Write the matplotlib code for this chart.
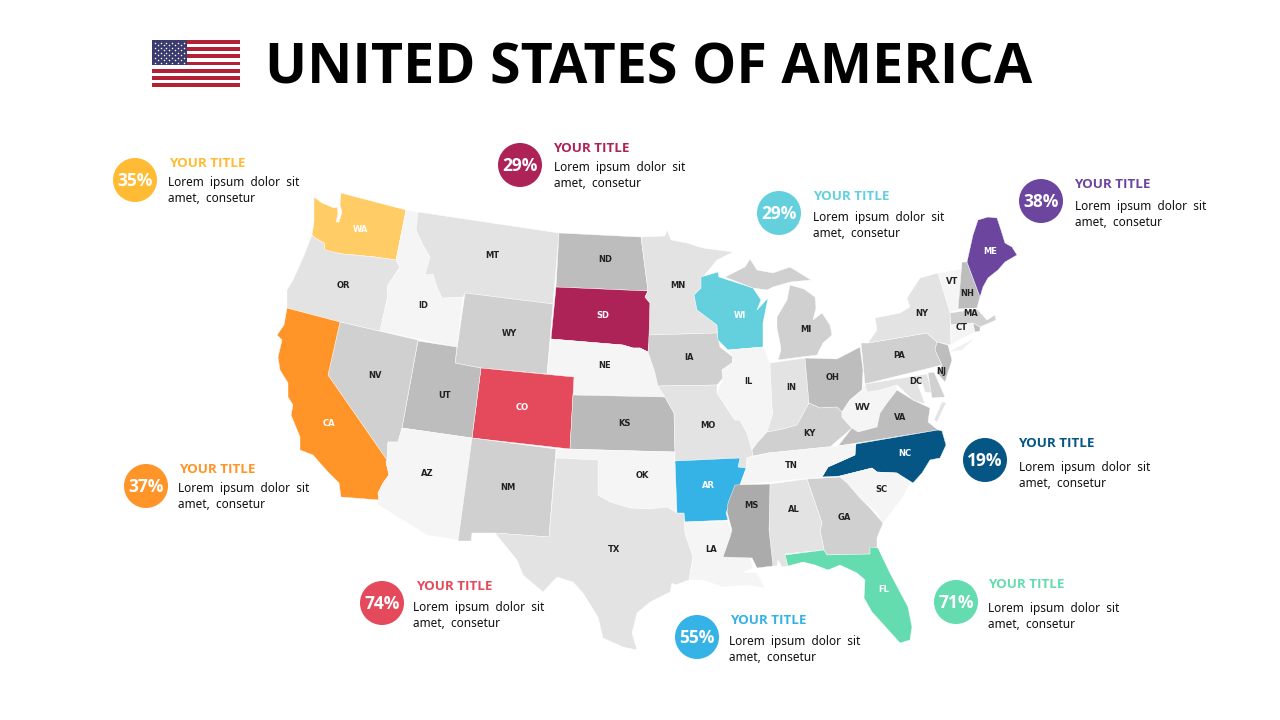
import matplotlib
matplotlib.use("Agg")
import matplotlib.pyplot as plt
from matplotlib.patches import Polygon, Circle, Rectangle

W, H = 1280, 720

# --- state outlines
WA = [(314,197),(322,203),(334,208),(337,207),(338,214),(336,222),(339,222),(342,212),(340,205),(341,193),(406,210),(396,260),(375,257),(355,255),(343,254),(330,252),(325,250),(324,243),(315,238),(312,235),(314,222)]
OR = [(312,235),(315,238),(324,243),(325,250),(343,254),(375,257),(396,260),(400,267),(388,285),(387,291),(388,295),(380,331),(340,322),(287,308),(287,290),(293,280),(303,258)]
ID = [(406,210),(418,212),(416,230),(423,245),(430,257),(425,275),(433,274),(437,287),(442,298),(463,297),(457,347),(380,331),(388,295),(387,291),(388,285),(400,267),(396,260)]
MT = [(418,212),(559,233),(553,304),(465,293),(463,297),(442,298),(437,287),(433,274),(425,275),(430,257),(423,245),(416,230)]
WY = [(465,293),(553,304),(547,374),(481,368),(455,363)]
ND = [(559,233),(641,237),(648,291),(556,287)]
SD = [(556,287),(648,291),(645,297),(650,303),(650,335),(648,352),(640,348),(633,348),(623,345),(551,339)]
NE = [(551,339),(623,345),(633,348),(640,348),(648,352),(655,373),(665,397),(573,395),(574,377),(547,374)]
CO = [(481,368),(574,377),(570,449),(472,438)]
UT = [(418,341),(457,347),(455,363),(481,368),(472,438),(402,428)]
NV = [(340,322),(418,340),(402,428),(398,442),(388,442),(387,460),(328,375)]
CA = [(287,308),(340,322),(328,375),(387,460),(386,462),(389,475),(383,483),(378,493),(379,500),(341,497),(339,483),(328,472),(320,463),(313,455),(300,450),(300,437),(291,415),(293,405),(288,397),(288,383),(280,370),(278,357),(282,340),(277,335),(284,325)]
AZ = [(402,428),(472,438),(458,540),(427,535),(377,504),(379,500),(378,493),(383,483),(389,475),(386,462),(387,460),(388,442),(398,442)]
NM = [(472,438),(556,449),(549,537),(495,533),(472,533),(471,541),(458,541)]
KS = [(573,395),(665,397),(674,413),(675,452),(570,449)]
OK = [(556,449),(675,452),(675,461),(677,513),(667,507),(650,509),(630,508),(610,502),(598,495),(598,460),(556,458)]
TX = [(556,458),(598,460),(598,495),(610,502),(630,508),(650,509),(667,507),(677,513),(684,513),(685,533),(693,557),(689,580),(675,585),(672,583),(670,592),(650,602),(637,613),(632,633),(637,650),(623,647),(603,638),(598,617),(583,593),(573,582),(557,577),(543,592),(523,575),(517,560),(495,533),(549,537)]
MN = [(641,237),(665,236),(667,230),(671,240),(687,243),(703,248),(733,252),(717,260),(703,277),(701,288),(694,295),(697,310),(717,325),(717,333),(649,335),(650,303),(645,297),(648,291)]
IA = [(649,335),(717,333),(720,347),(733,357),(732,363),(722,370),(723,378),(717,385),(658,386),(655,373),(648,352)]
MO = [(658,386),(717,385),(717,393),(735,420),(740,420),(747,433),(752,450),(753,456),(747,458),(746,468),(738,467),(740,458),(675,461),(675,452),(674,413),(665,397)]
AR = [(675,461),(740,458),(738,467),(746,468),(740,485),(730,503),(726,513),(728,520),(685,522),(684,513),(677,513)]
LA = [(685,522),(728,521),(732,532),(723,557),(750,557),(753,568),(743,572),(757,573),(765,588),(747,585),(723,587),(703,580),(689,580),(693,557),(685,533)]
WI = [(701,277),(718,272),(719,277),(753,288),(761,300),(757,310),(768,298),(763,323),(763,347),(728,350),(718,340),(717,325),(697,310),(694,295),(701,288)]
IL = [(728,350),(763,347),(770,363),(772,407),(773,413),(767,432),(757,443),(752,450),(747,433),(740,420),(735,420),(717,393),(723,378),(722,370),(732,363),(733,357)]
IN = [(770,363),(805,358),(809,403),(797,425),(783,429),(767,432),(773,413),(772,407)]
MI_UP = [(725,277),(745,267),(750,259),(757,270),(773,273),(790,267),(811,280),(790,282),(773,287),(767,290),(753,288)]
MI_LOW = [(790,285),(804,289),(815,297),(816,308),(813,320),(822,313),(830,325),(832,335),(823,343),(817,355),(778,360),(781,350),(780,343),(777,328),(777,317),(787,300)]
OH = [(805,358),(837,359),(860,347),(863,370),(862,390),(850,400),(842,412),(837,407),(820,408),(809,403)]
KY = [(809,403),(820,408),(837,407),(842,412),(842,417),(852,428),(830,447),(768,453),(753,456),(752,450),(757,443),(767,432),(783,429),(797,425)]
WV = [(842,412),(850,400),(862,390),(863,385),(880,390),(897,385),(897,390),(887,403),(880,413),(877,427),(858,432),(852,428),(842,417)]
VA = [(897,390),(913,400),(930,408),(928,422),(938,430),(838,446),(852,428),(858,432),(877,427),(880,413),(887,403)]
NC = [(938,430),(942,431),(946,445),(940,458),(930,460),(922,473),(913,483),(897,473),(877,472),(872,468),(840,476),(822,477),(828,467),(855,455),(856,444)]
TN = [(747,458),(768,453),(855,444),(855,455),(828,467),(822,477),(740,485),(747,467)]
SC = [(840,476),(872,468),(877,472),(897,473),(910,483),(903,497),(883,523),(877,513),(860,498),(847,483)]
GA = [(807,479),(840,477),(847,483),(860,498),(870,508),(883,523),(877,538),(877,548),(870,548),(870,554),(827,555),(824,550),(820,530),(822,523)]
AL = [(770,484),(807,479),(822,523),(820,530),(824,550),(785,554),(788,566),(782,567),(778,560),(777,566),(773,566),(769,530)]
MS = [(735,485),(770,484),(769,530),(773,566),(757,568),(752,558),(723,557),(730,537),(732,530),(727,512),(728,503)]
FL = [(785,555),(824,550),(827,555),(870,554),(870,547),(878,548),(890,573),(908,607),(912,627),(910,640),(900,643),(882,623),(872,612),(864,598),(865,580),(857,573),(840,565),(828,570),(815,565),(803,562),(788,566)]
PA = [(861,343),(868,343),(927,333),(937,342),(935,350),(942,365),(865,384)]
NY = [(868,343),(877,330),(875,318),(900,313),(910,307),(907,298),(920,278),(938,273),(950,312),(951,345),(937,342),(927,333)]
VT = [(938,273),(962,269),(958,310),(950,312)]
NH = [(962,262),(967,262),(980,297),(977,308),(958,309)]
ME = [(967,262),(973,235),(978,220),(988,217),(997,218),(1001,230),(1005,243),(1012,247),(1017,255),(1005,262),(998,270),(988,278),(983,287),(980,297)]
MA = [(950,313),(977,309),(987,320),(995,315),(996,320),(980,327),(973,323),(951,325)]
CT = [(951,325),(973,323),(975,332),(955,342),(951,345)]
RI = [(973,323),(980,327),(980,331),(975,332)]
LI = [(948,352),(975,338),(962,350)]
NJ = [(937,342),(948,345),(952,360),(945,382),(937,373),(942,365),(935,350)]
MD = [(865,384),(927,374),(932,393),(925,392),(922,382),(918,385),(925,404),(913,400),(897,385),(880,390),(867,392)]
DE = [(928,373),(934,372),(945,397),(932,398)]
VA_SHORE = [(942,402),(946,403),(937,422),(934,420)]

SHAPES = [WA,OR,ID,MT,WY,ND,SD,NE,CO,UT,NV,CA,AZ,NM,KS,OK,TX,MN,IA,MO,AR,LA,WI,IL,IN,MI_UP,MI_LOW,OH,KY,WV,VA,NC,TN,SC,GA,AL,MS,FL,PA,NY,VT,NH,ME,MA,CT,RI,LI,NJ,MD,DE,VA_SHORE]
FILLS = ['#FFCC66','#E3E3E3','#F5F5F5','#E3E3E3','#D0D0D0','#BDBDBD','#AD2257','#F5F5F5','#E44A5B','#BDBDBD','#D0D0D0','#FF9429','#F5F5F5','#D0D0D0','#BABABA','#F5F5F5','#E3E3E3','#E3E3E3','#D0D0D0','#E3E3E3','#35B2E6','#F5F5F5','#64D0DD','#F5F5F5','#E3E3E3','#D0D0D0','#D0D0D0','#BDBDBD','#D0D0D0','#F5F5F5','#BDBDBD','#055585','#F5F5F5','#F5F5F5','#D0D0D0','#E3E3E3','#ABABAB','#65DBB0','#D0D0D0','#E3E3E3','#F5F5F5','#BDBDBD','#6C459F','#D0D0D0','#F5F5F5','#BDBDBD','#F0F0F0','#BDBDBD','#E3E3E3','#D0D0D0','#E3E3E3']

# --- state labels
LABELS = ['WA','OR','ID','MT','WY','ND','SD','NE','CO','UT','NV','CA','AZ','NM','KS','OK','TX','MN','IA','MO','AR','LA','WI','IL','IN','MI','OH','KY','WV','VA','NC','TN','SC','GA','AL','MS','FL','PA','NY','VT','NH','ME','MA','CT','NJ','DC']
LABEL_X = [360,343,423,492,509,605,603,605,522,445,375,329,427,508,624,642,614,678,689,708,708,711,740,748,791,806,833,809,863,900,905,791,881,844,794,751,884,899,922,952,967,990,971,962,941,916]
LABEL_Y = [230,285,306,255,334,260,315,365,408,396,376,423,473,487,423,475,550,285,357,425,486,549,315,382,388,329,378,433,407,418,454,465,490,518,509,506,590,355,313,281,294,252,313,328,372,381]
WHITE_LABELS = ['WA','SD','CO','CA','AR','WI','NC','FL','ME']

# --- callouts
PERCENTS = [35,29,29,38,19,71,55,74,37]
CALLOUT_COLORS = ['#FFBB33','#AD2257','#64D0DD','#6C459F','#055585','#65DBB0','#35B2E6','#E44A5B','#FF9429']
CIRCLE_X = [135,520,779,1041,985,956,697,382,146]
CIRCLE_Y = [180,165,213,201,460,602,637,603,486]
TITLE_X = [169,553,813,1074,1018,988,730,416,179]
TITLE_Y = [163,148,196,184,443,584,620,586,469]
BODY_X = [168,554,813,1075,1019,988,729,413,178]
BODY_Y = [182,167,217,206,467,608,641,607,488]
CALLOUT_TITLE = 'YOUR TITLE'
BODY_LINES = ['Lorem  ipsum  dolor  sit', 'amet,  consetur']
HEADING = 'UNITED STATES OF AMERICA'

# --- flag
STRIPES = ['#B22234' if i % 2 == 0 else '#FFFFFF' for i in range(13)]

fig = plt.figure(figsize=(W/100, H/100), dpi=100, facecolor='white')
ax = fig.add_axes([0, 0, 1, 1])
ax.set_xlim(0, W)
ax.set_ylim(H, 0)
ax.axis('off')

for pts, c in zip(SHAPES, FILLS):
    ax.add_patch(Polygon(pts, closed=True, facecolor=c, edgecolor='white', lw=0.3, joinstyle='round'))

for name, x, y in zip(LABELS, LABEL_X, LABEL_Y):
    ax.text(x, y, name, ha='center', va='center', fontsize=6, fontweight='bold',
            family='DejaVu Sans', color='white' if name in WHITE_LABELS else '#222222')

BOLD = 'Open Sans'
for pct, col, cx, cy, tx, ty, bx, by in zip(PERCENTS, CALLOUT_COLORS, CIRCLE_X, CIRCLE_Y, TITLE_X, TITLE_Y, BODY_X, BODY_Y):
    ax.add_patch(Circle((cx, cy), 22, facecolor=col, edgecolor='none'))
    ax.text(cx, cy + 6, f'{pct}%', ha='center', va='baseline', fontsize=12.5, fontweight='bold',
            family=BOLD, color='white')
    ax.text(tx, ty + 4, CALLOUT_TITLE, ha='left', va='baseline', fontsize=9.6, fontweight='bold',
            family=BOLD, color=col)
    ax.text(bx, by + 4, BODY_LINES[0], ha='left', va='baseline', fontsize=8.5, family='Noto Sans', color='#111111')
    ax.text(bx, by + 20, BODY_LINES[1], ha='left', va='baseline', fontsize=8.5, family='Noto Sans', color='#111111')

ax.text(265, 84, HEADING, ha='left', va='baseline', fontsize=40.1, fontweight='bold',
        family=BOLD, color='black')

# flag
fx, fy, fw, fh = 152, 40, 88, 47
sh = fh / len(STRIPES)
for i, c in enumerate(STRIPES):
    ax.add_patch(Rectangle((fx, fy + i*sh), fw, sh, facecolor=c, edgecolor='none'))
ax.add_patch(Rectangle((fx, fy), 35, 25, facecolor='#3C3B6E', edgecolor='none'))
for row in range(9):
    n = 6 if row % 2 == 0 else 5
    for k in range(n):
        ax.plot(fx + 2.8 + k*5.8 + (0 if row % 2 == 0 else 2.9), fy + 2.5 + row*2.5, 'o',
                ms=1.1, mfc='white', mec='none')

fig.savefig('out.png', dpi=100, facecolor='white')
